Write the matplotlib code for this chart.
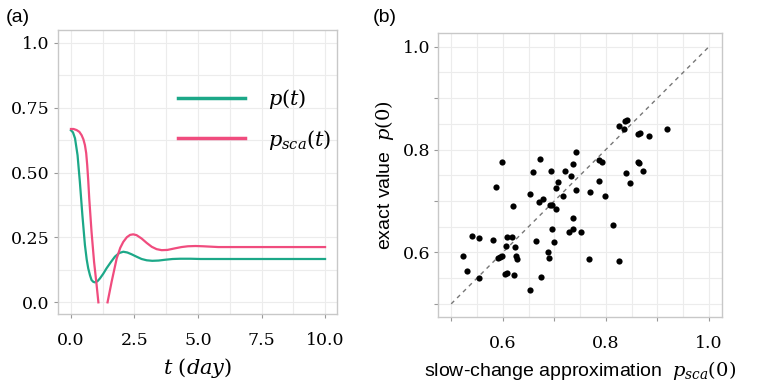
import numpy as np
import matplotlib
matplotlib.use("Agg")
import matplotlib.pyplot as plt

plt.rcParams["mathtext.fontset"] = "dejavuserif"

# panel (a)
t_exact = [0.0, 0.08, 0.16, 0.26, 0.35, 0.45, 0.55, 0.62, 0.68, 0.75, 0.81, 0.88, 0.94,
           1.04, 1.14, 1.27, 1.40, 1.57, 1.73, 1.90, 2.06, 2.22, 2.39, 2.58, 2.78, 2.98,
           3.2, 3.45, 3.7, 4.0, 4.3, 4.7, 5.1, 6.0, 7.0, 8.0, 9.0, 10.0]
p_exact = [0.663, 0.655, 0.632, 0.567, 0.465, 0.336, 0.221, 0.165, 0.131, 0.104, 0.086,
           0.079, 0.077, 0.081, 0.092, 0.110, 0.131, 0.155, 0.176, 0.190, 0.195, 0.192,
           0.185, 0.176, 0.167, 0.162, 0.160, 0.161, 0.164, 0.167, 0.168, 0.168, 0.167,
           0.167, 0.167, 0.167, 0.167, 0.167]

t_sca = [0.0, 0.10, 0.22, 0.33, 0.42, 0.49, 0.55, 0.60, 0.64, 0.68, 0.72, 0.81, 0.91,
         1.01, 1.08, 1.26,
         1.44, 1.60, 1.80, 1.94, 2.06, 2.20, 2.33, 2.45, 2.58, 2.78, 2.98, 3.18, 3.37,
         3.57, 3.80, 4.09, 4.35, 4.6, 4.9, 5.2, 5.8, 7.0, 8.0, 9.0, 10.0]
p_sca = [0.668, 0.668, 0.664, 0.657, 0.644, 0.628, 0.606, 0.575, 0.529, 0.470, 0.40,
         0.272, 0.156, 0.067, 0.0, np.nan,
         0.0, 0.079, 0.169, 0.210, 0.233, 0.251, 0.260, 0.262, 0.259, 0.246, 0.229,
         0.214, 0.205, 0.201, 0.202, 0.208, 0.213, 0.216, 0.217, 0.216, 0.213, 0.213,
         0.213, 0.213, 0.213]

# panel (b): scatter points
x_sca0 = [0.522, 0.530, 0.541, 0.554, 0.554, 0.582, 0.587, 0.591, 0.594, 0.598,
          0.598, 0.604, 0.606, 0.608, 0.609, 0.617, 0.620, 0.622, 0.624, 0.626,
          0.628, 0.652, 0.653, 0.659, 0.664, 0.672, 0.671, 0.675, 0.679, 0.688,
          0.689, 0.692, 0.694, 0.696, 0.696, 0.700, 0.703, 0.704, 0.707, 0.716,
          0.721, 0.728, 0.733, 0.736, 0.737, 0.737, 0.742, 0.742, 0.751, 0.767,
          0.770, 0.787, 0.787, 0.793, 0.798, 0.814, 0.826, 0.826, 0.835, 0.838,
          0.841, 0.840, 0.847, 0.862, 0.864, 0.863, 0.867, 0.872, 0.884, 0.919]
y_exact0 = [0.594, 0.563, 0.632, 0.629, 0.550, 0.625, 0.727, 0.589, 0.591, 0.594,
            0.776, 0.558, 0.613, 0.630, 0.560, 0.630, 0.690, 0.556, 0.611, 0.594,
            0.587, 0.527, 0.713, 0.756, 0.623, 0.781, 0.699, 0.552, 0.704, 0.600,
            0.589, 0.693, 0.758, 0.646, 0.693, 0.621, 0.726, 0.684, 0.737, 0.709,
            0.758, 0.640, 0.748, 0.645, 0.666, 0.771, 0.722, 0.795, 0.640, 0.587,
            0.718, 0.739, 0.780, 0.776, 0.709, 0.653, 0.583, 0.845, 0.839, 0.856,
            0.858, 0.754, 0.735, 0.776, 0.773, 0.830, 0.832, 0.759, 0.826, 0.839]

green = "#1ca888"
pink = "#f04c7e"
frame_col = "#c8c8c8"
grid_col = "#ececec"


def style_axes(ax):
    for s in ax.spines.values():
        s.set_color(frame_col)
        s.set_linewidth(1.0)
    ax.grid(True, which="both", color=grid_col, linewidth=0.8)
    ax.set_axisbelow(True)
    ax.tick_params(which="both", direction="out", length=3, width=0.8, color="#999999",
                   labelsize=12.5, pad=3)
    ax.tick_params(axis="x", pad=10)
    ax.tick_params(which="minor", length=0)
    for lab in ax.get_xticklabels() + ax.get_yticklabels():
        lab.set_fontfamily("DejaVu Serif")


fig = plt.figure(figsize=(7.64, 3.86), dpi=100)

# (a)
ax1 = fig.add_axes([0.0759, 0.1865, 0.3652, 0.7355])
ax1.plot(t_exact, p_exact, color=green, lw=1.6, label=r"$p(t)$")
ax1.plot(t_sca, p_sca, color=pink, lw=1.6, label=r"$p_{sca}(t)$")
ax1.set_xlim(-0.51, 10.47)
ax1.set_ylim(-0.045, 1.049)
ax1.set_xticks([0, 2.5, 5, 7.5, 10])
ax1.set_xticklabels(["0.0", "2.5", "5.0", "7.5", "10.0"])
ax1.set_xticks([1.25, 3.75, 6.25, 8.75], minor=True)
ax1.set_yticks([0, 0.25, 0.5, 0.75, 1.0])
ax1.set_yticklabels(["0.0", "0.25", "0.50", "0.75", "1.0"])
ax1.set_yticks([0.125, 0.375, 0.625, 0.875], minor=True)
style_axes(ax1)
ax1.set_xlabel(r"$t\ (day)$", fontsize=15, labelpad=5)
leg = ax1.legend(loc="upper left", bbox_to_anchor=(0.43, 0.80), frameon=False,
                 fontsize=15, handlelength=3.2, handletextpad=1.1, labelspacing=0.8,
                 borderpad=0, borderaxespad=0)
for ln in leg.get_lines():
    ln.set_linewidth(2.5)
fig.text(0.007, 0.955, "(a)", fontsize=14, family="Liberation Sans", va="center")

# (b)
ax2 = fig.add_axes([0.5737, 0.1795, 0.3709, 0.7342])
ax2.plot([0.5, 1.0], [0.5, 1.0], color="#777777", lw=1.0, ls=(0, (3, 3)))
ax2.scatter(x_sca0, y_exact0, s=20, color="black", zorder=3, linewidths=0)
ax2.set_xlim(0.475, 1.0246)
ax2.set_ylim(0.475, 1.026)
ticks = [0.5, 0.6, 0.7, 0.8, 0.9, 1.0]
labels = ["", "0.6", "", "0.8", "", "1.0"]
ax2.set_xticks(ticks)
ax2.set_xticklabels(labels)
ax2.set_yticks(ticks)
ax2.set_yticklabels(labels)
ax2.set_xticks([0.55, 0.65, 0.75, 0.85, 0.95], minor=True)
ax2.set_yticks([0.55, 0.65, 0.75, 0.85, 0.95], minor=True)
style_axes(ax2)
ax2.set_xlabel(r"slow-change approximation  $p_{sca}(0)$", fontsize=14,
               family="Liberation Sans", labelpad=5)
ax2.set_ylabel(r"exact value  $p(0)$", fontsize=14, family="Liberation Sans", labelpad=5)
fig.text(0.488, 0.955, "(b)", fontsize=14, family="Liberation Sans", va="center")

fig.savefig("out.png", dpi=100)
